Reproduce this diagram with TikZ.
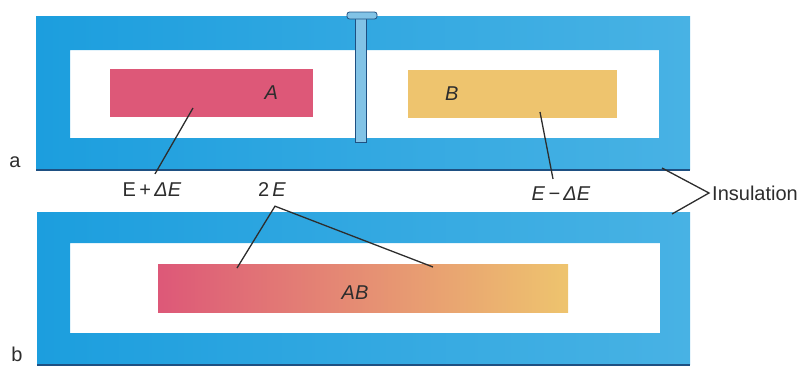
\documentclass[tikz,border=0pt]{standalone}
\usepackage{fontspec}
\setmainfont{Liberation Sans}
\usetikzlibrary{positioning,calc}
\definecolor{frameblue}{RGB}{28,158,222}
\definecolor{framelight}{RGB}{72,178,228}
\definecolor{rimblue}{RGB}{30,80,130}
\definecolor{hotpink}{RGB}{221,88,120}
\definecolor{salmon}{RGB}{233,112,120}
\definecolor{warmyellow}{RGB}{238,196,110}
\definecolor{pinblue}{RGB}{130,195,230}
\definecolor{inkgrey}{RGB}{45,45,45}
\tikzset{
  frame/.style={even odd rule,left color=frameblue,right color=framelight},
  rim/.style={draw=rimblue,line width=1.4pt},
  pin/.style={fill=pinblue,draw=rimblue,line width=0.8pt},
  body/.style={draw=none,minimum height=48pt,inner sep=0pt},
  leader/.style={draw=inkgrey,line width=1.3pt},
  lbl/.style={text=inkgrey,font=\fontsize{20}{22}\selectfont,inner sep=1pt},
}

\begin{document}
\begin{tikzpicture}[x=1pt,y=-1pt]
  \useasboundingbox (0,0) rectangle (807,367);
  % upper vessel (a)
  \shade[frame] (36,16) rectangle (690,170) (70,50) rectangle (659,138);
  \draw[rim] (36,170) -- (690,170);
  % lower vessel (b)
  \shade[frame] (37,212) rectangle (690,365) (70,243) rectangle (660,333);
  \draw[rim] (37,365) -- (690,365);
  % partition pin
  \filldraw[pin] (355,17) rectangle (366,142);
  \filldraw[pin,rounded corners=2.5pt] (347,12) rectangle (377,19);

  % bodies
  \node[body,fill=hotpink,minimum width=203pt] (A) at (211.5,93) {};
  \node[body,fill=warmyellow,minimum width=209pt] (B) at (512.5,94) {};
  \node[body,left color=hotpink,middle color=salmon,right color=warmyellow,
        minimum width=410pt] (AB) at (363,288) {};
  \node[lbl,left=34pt of A.east] (nA) {\textit{A}};
  \node[lbl,right=36pt of B.west] (nB) {\textit{B}};
  \node[lbl] (nAB) at (355,293) {\textit{AB}};

  % tags
  \node[lbl,anchor=base] (tagA) at (15,167) {a};
  \node[lbl,anchor=base] (tagB) at (17,361) {b};

  % energy labels
  \coordinate (inA) at (193,108);
  \node[lbl] (eplus) at (152,190) {E\,+\,\textit{ΔE}};
  \draw[leader] (inA) -- ([shift={(3pt,8pt)}]eplus.north);

  \coordinate (inB) at (540,112);
  \node[lbl] (eminus) at (561,194) {\textit{E\,−\,ΔE}};
  \draw[leader] (inB) -- ([shift={(-8pt,7pt)}]eminus.north);

  \node[lbl] (twoE) at (272,190) {2\,\textit{E}};
  \coordinate (apex) at ([shift={(3pt,-8pt)}]twoE.south);
  \coordinate (inABl) at (237,268);
  \coordinate (inABr) at (433,267);
  \draw[leader] (inABl) -- (apex) -- (inABr);

  % insulation bracket
  \node[lbl,anchor=west,inner sep=3pt] (ins) at (709,193) {Insulation};
  \coordinate (topRim) at (662,168);
  \coordinate (botRim) at (672,214);
  \draw[leader] (topRim) -- (ins.west) -- (botRim);
\end{tikzpicture}
\end{document}
